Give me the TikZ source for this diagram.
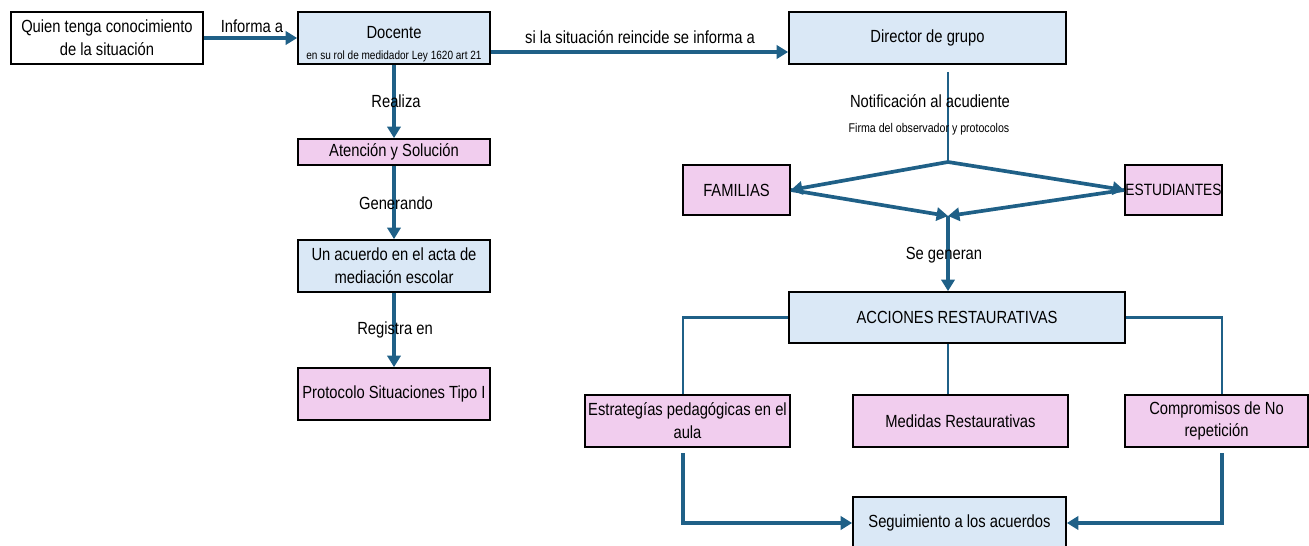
\documentclass[tikz,border=0pt]{standalone}
\usepackage{fontspec}
\setmainfont{Liberation Sans}[FakeStretch=0.84]
\usetikzlibrary{arrows.meta}

\tikzset{
	box/.style={draw=black, line width=1pt, inner sep=1pt, align=center,
		font=\fontsize{10}{13}\selectfont},
	bluebox/.style={box, fill=boxblue},
	pinkbox/.style={box, fill=boxpink},
	flow/.style={draw=flowblue, line width=2.1pt, -{Triangle[length=6.5pt,width=7.5pt]}},
	thinline/.style={draw=flowblue, line width=1.3pt},
	lbl/.style={inner sep=1pt, font=\fontsize{10}{11}\selectfont},
	smalllbl/.style={inner sep=1pt, font=\fontsize{7.2}{8}\selectfont}
}

\begin{document}
\begin{tikzpicture}[x=0.02cm, y=-0.02cm]

	% Define colors
	\definecolor{boxblue}{RGB}{218, 232, 246}
	\definecolor{boxpink}{RGB}{241, 205, 238}
	\definecolor{flowblue}{RGB}{31, 96, 135}

	\useasboundingbox (0,0) rectangle (1309,546);

	% Left column
	\node[box, minimum width=3.84cm, minimum height=1.04cm] (quien) at (107,38)
		{Quien tenga conocimiento\\de la situación};
	\node[bluebox, minimum width=3.84cm, minimum height=1.04cm, inner sep=0pt] (docente) at (394,38)
		{\rule{0pt}{14pt}Docente\\[-1pt]{\fontsize{6.8}{7}\selectfont en su rol de medidador Ley 1620 art 21}};
	\node[pinkbox, minimum width=3.84cm, minimum height=0.52cm] (atencion) at (394,152)
		{Atención y Solución};
	\node[bluebox, minimum width=3.84cm, minimum height=1.04cm] (acuerdo) at (394,266)
		{Un acuerdo en el acta de\\mediación escolar};
	\node[pinkbox, minimum width=3.84cm, minimum height=1.04cm] (protocolo) at (394,394)
		{Protocolo Situaciones Tipo I};

	% Right column
	\node[bluebox, minimum width=5.54cm, minimum height=1.04cm] (director) at (927.5,38)
		{Director de grupo};
	\node[pinkbox, minimum width=2.14cm, minimum height=1.0cm] (familias) at (736.5,190)
		{FAMILIAS};
	\node[pinkbox, minimum width=1.94cm, minimum height=1.0cm, inner sep=0pt,
		font=\fontsize{9.3}{11}\selectfont] (estudiantes) at (1173.5,190)
		{ESTUDIANTES};
	\node[bluebox, minimum width=6.72cm, minimum height=1.02cm] (acciones) at (957,317.5)
		{ACCIONES RESTAURATIVAS};
	\node[pinkbox, minimum width=4.1cm, minimum height=1.04cm] (estrategias) at (687.5,421)
		{Estrategías pedagógicas en el\\aula};
	\node[pinkbox, minimum width=4.3cm, minimum height=1.04cm] (medidas) at (960.5,421)
		{Medidas Restaurativas};
	\node[pinkbox, minimum width=3.66cm, minimum height=1.04cm] (compromisos) at (1216.5,421)
		{Compromisos de No\\repetición};
	\node[bluebox, minimum width=4.26cm, minimum height=1.04cm] (seguimiento) at (959.5,523)
		{Seguimiento a los acuerdos};

	% Diamond corners
	\coordinate (top) at (948,162);
	\coordinate (bot) at (948,216);

	% Draw the arrows of the left column
	\draw[flow] (quien) -- (docente);
	\draw[flow] (docente) -- (atencion);
	\draw[flow] (atencion) -- (acuerdo);
	\draw[flow] (acuerdo) -- (protocolo);
	\draw[flow] ([yshift=-0.28cm]docente.east) -- ([yshift=-0.28cm]director.west);

	% Draw the diamond
	\draw[thinline, shorten <=4pt] (director.south -| top) -- (top);
	\draw[flow] (top) -- (familias.east);
	\draw[flow] (top) -- (estudiantes.west);
	\draw[flow] (familias.east) -- (bot);
	\draw[flow] (estudiantes.west) -- (bot);
	\draw[flow] (bot) -- (bot |- acciones.north);

	% Draw the branches
	\draw[thinline] (acciones.west) -| ([xshift=-0.09cm]estrategias.north);
	\draw[thinline] (acciones.east) -| ([xshift=0.11cm]compromisos.north);
	\draw[thinline] (acciones.south -| bot) -- (medidas.north -| bot);
	\draw[flow, shorten <=3pt] ([xshift=-0.09cm]estrategias.south) |- (seguimiento.west);
	\draw[flow, shorten <=3pt] ([xshift=0.11cm]compromisos.south) |- (seguimiento.east);

	% Labels
	\node[lbl] (informa) at (252,26) {Informa a};
	\node[lbl] (reincide) at (640,37) {si la situación reincide se informa a};
	\node[lbl] (realiza) at (396,101) {Realiza};
	\node[lbl] (generando) at (396,203) {Generando};
	\node[lbl] (registra) at (395,330) {Registra en};
	\node[lbl] (notificacion) at (930,101) {Notificación al acudiente};
	\node[smalllbl] (firma) at (929,129) {Firma del observador y protocolos};
	\node[lbl] (segeneran) at (944,255) {Se generan};

\end{tikzpicture}
\end{document}
